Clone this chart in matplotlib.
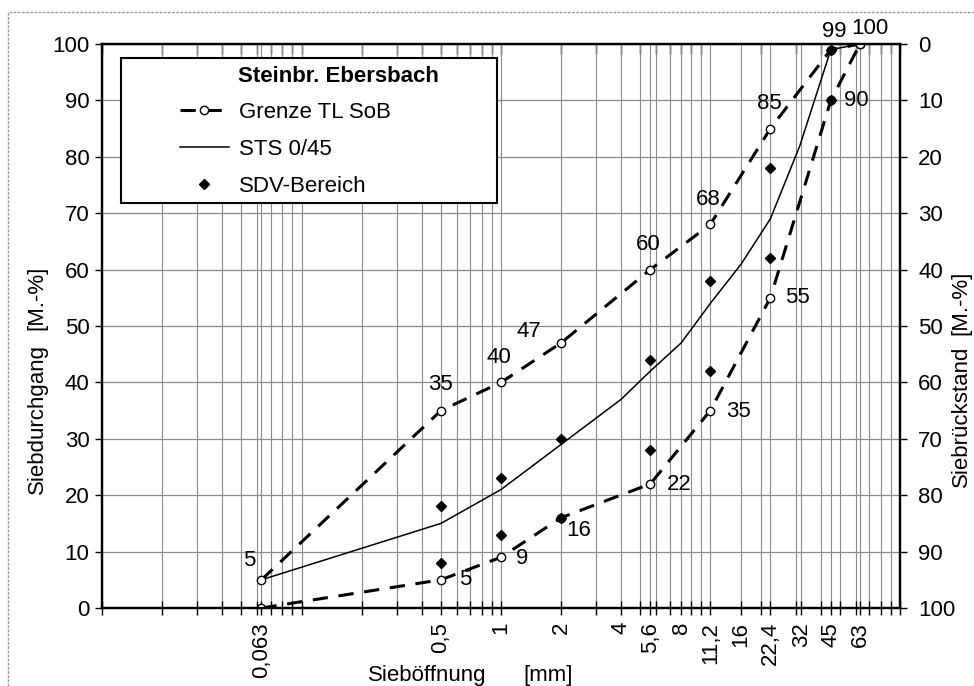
import matplotlib
matplotlib.use('Agg')
import matplotlib.pyplot as plt
from matplotlib.lines import Line2D
from matplotlib.patches import Rectangle
from matplotlib.ticker import NullFormatter

plt.rcParams['font.family'] = ['Liberation Sans', 'DejaVu Sans']

# ---- data -------------------------------------------------------------
sieve = [0.063, 0.5, 1, 2, 5.6, 11.2, 22.4, 45, 63]
upper = [5, 35, 40, 47, 60, 68, 85, 99, 100]
lower = [0, 5, 9, 16, 22, 35, 55, 90, 100]
upper_lbl = ['5', '35', '40', '47', '60', '68', '85', '99', '100']
lower_lbl = ['', '5', '9', '16', '22', '35', '55', '90', '']

sts_sieve = [0.063, 0.5, 1, 2, 4, 5.6, 8, 11.2, 16, 22.4, 31.5, 45, 63]
sts = [5, 15, 21, 29, 37, 42, 47, 54, 61, 69, 82, 99, 100]

sdv_sieve = [0.5, 0.5, 1, 1, 2, 2, 5.6, 5.6, 11.2, 11.2, 22.4, 22.4, 45, 45]
sdv = [18, 8, 23, 13, 30, 16, 44, 28, 58, 42, 78, 62, 99, 90]

tick_pos = [0.063, 0.5, 1, 2, 4, 5.6, 8, 11.2, 16, 22.4, 32, 45, 63]
tick_lbl = ['0,063', '0,5', '1', '2', '4', '5,6', '8', '11,2', '16', '22,4',
            '32', '45', '63']
y_ticks = [0, 10, 20, 30, 40, 50, 60, 70, 80, 90, 100]

# label offsets in pixels (layout only)
upper_off = [(-12, 19), (0, 26), (-2, 25), (-32, 11), (-2, 25), (-2, 25),
             (-1, 25), (3, 18), (10, 15)]
lower_off = [(0, 0), (24, 0), (21, -1), (18, -13), (29, -1), (28, -1),
             (27, 0), (25, 0), (0, 0)]

FS = 16
GRID = '#8a8a8a'

fig = plt.figure(figsize=(9.74, 6.86), dpi=100)
ax = fig.add_axes([102 / 974, 1 - 608 / 686, 798 / 974, 564 / 686])

ax.set_xscale('log')
ax.set_xlim(0.01, 100)
ax.set_ylim(0, 100)

minor_pos = [m * 10.0 ** e for e in range(-2, 2) for m in range(1, 10)] + [100]
ax.set_xticks(tick_pos)
ax.set_xticklabels(tick_lbl, rotation=90)
ax.set_xticks(minor_pos, minor=True)
ax.xaxis.set_minor_formatter(NullFormatter())
ax.set_yticks(y_ticks)

ax.grid(True, which='both', axis='x', color=GRID, lw=0.8)
ax.grid(True, which='major', axis='y', color=GRID, lw=0.9)
ax.set_axisbelow(True)

ax.tick_params(axis='x', which='both', direction='inout', length=10, width=1,
               labelsize=FS, pad=5, colors='black')
ax.tick_params(axis='y', direction='out', length=5, width=1, labelsize=FS,
               pad=4)
for s in ax.spines.values():
    s.set_linewidth(1.6)

# top ticks pointing inward
sec = ax.secondary_xaxis('top')
sec.set_xticks(minor_pos)
sec.xaxis.set_major_formatter(NullFormatter())
sec.tick_params(direction='in', length=7, width=1)

# right axis (Siebrückstand)
ax2 = ax.twinx()
ax2.set_ylim(100, 0)
ax2.set_yticks(y_ticks)
ax2.tick_params(axis='y', direction='out', length=5, width=1, labelsize=FS,
                pad=8)
for s in ax2.spines.values():
    s.set_linewidth(1.6)

# ---- series -------------------------------------------------------------
dash_kw = dict(color='black', lw=2.2, dashes=(5, 3.5), marker='o', ms=6,
               mfc='white', mec='black', mew=1.0, zorder=4)
ax.plot(sieve, upper, **dash_kw)
ax.plot(sieve, lower, **dash_kw)
ax.plot(sts_sieve, sts, color='black', lw=1.1, zorder=3)
ax.plot(sdv_sieve, sdv, ls='none', marker='D', ms=5, color='black', zorder=5)

for xv, yv, t, o in zip(sieve, upper, upper_lbl, upper_off):
    if t:
        ax.annotate(t, (xv, yv), xytext=o, textcoords='offset pixels',
                    ha='center', va='center', fontsize=FS, annotation_clip=False)
for xv, yv, t, o in zip(sieve, lower, lower_lbl, lower_off):
    if t:
        ax.annotate(t, (xv, yv), xytext=o, textcoords='offset pixels',
                    ha='center', va='center', fontsize=FS, annotation_clip=False)

# ---- legend -------------------------------------------------------------
ax.add_patch(Rectangle((19 / 798, (608 - 203) / 564), 376 / 798, 145 / 564,
                       transform=ax.transAxes, facecolor='white',
                       edgecolor='black', lw=1.5, zorder=6))
ax.text(136 / 798, (608 - 77) / 564, 'Steinbr. Ebersbach', transform=ax.transAxes,
        fontsize=FS, fontweight='bold', ha='left', va='center', zorder=8)
handles = [
    Line2D([], [], color='black', lw=2.2, dashes=(5, 3.5), marker='o', ms=6,
           mfc='white', mec='black', mew=1.0),
    Line2D([], [], color='black', lw=1.1),
    Line2D([], [], ls='none', marker='D', ms=5, color='black'),
]
leg = ax.legend(handles, ['Grenze TL SoB', 'STS 0/45', 'SDV-Bereich'],
                loc='upper left',
                bbox_to_anchor=((180 - 102) / 798, (608 - 102) / 564),
                frameon=False, fontsize=FS, handlelength=2.2, handletextpad=0.45,
                labelspacing=0.72, borderpad=0, borderaxespad=0)
leg.set_zorder(8)

# ---- axis titles ---------------------------------------------------------
fig.text(37 / 974, 1 - 419 / 686, 'Siebdurchgang', rotation=90, ha='center',
         va='center', fontsize=FS)
fig.text(37 / 974, 1 - 298 / 686, '[M.-%]', rotation=90, ha='center',
         va='center', fontsize=FS)
fig.text(961 / 974, 1 - 416 / 686, 'Siebrückstand', rotation=90, ha='center',
         va='center', fontsize=FS)
fig.text(961 / 974, 1 - 303 / 686, '[M.-%]', rotation=90, ha='center',
         va='center', fontsize=FS)
fig.text(427 / 974, 1 - 675 / 686, 'Sieböffnung', ha='center', va='center',
         fontsize=FS)
fig.text(548 / 974, 1 - 675 / 686, '[mm]', ha='center', va='center',
         fontsize=FS)

# outer frame (left and top edges)
fig.add_artist(Line2D([8 / 974, 8 / 974, 1.0], [0.0, 1 - 12 / 686, 1 - 12 / 686],
                      transform=fig.transFigure, color='#9a9a9a', lw=1.0,
                      ls=(0, (2, 1))))

fig.savefig('out.png', dpi=100)
